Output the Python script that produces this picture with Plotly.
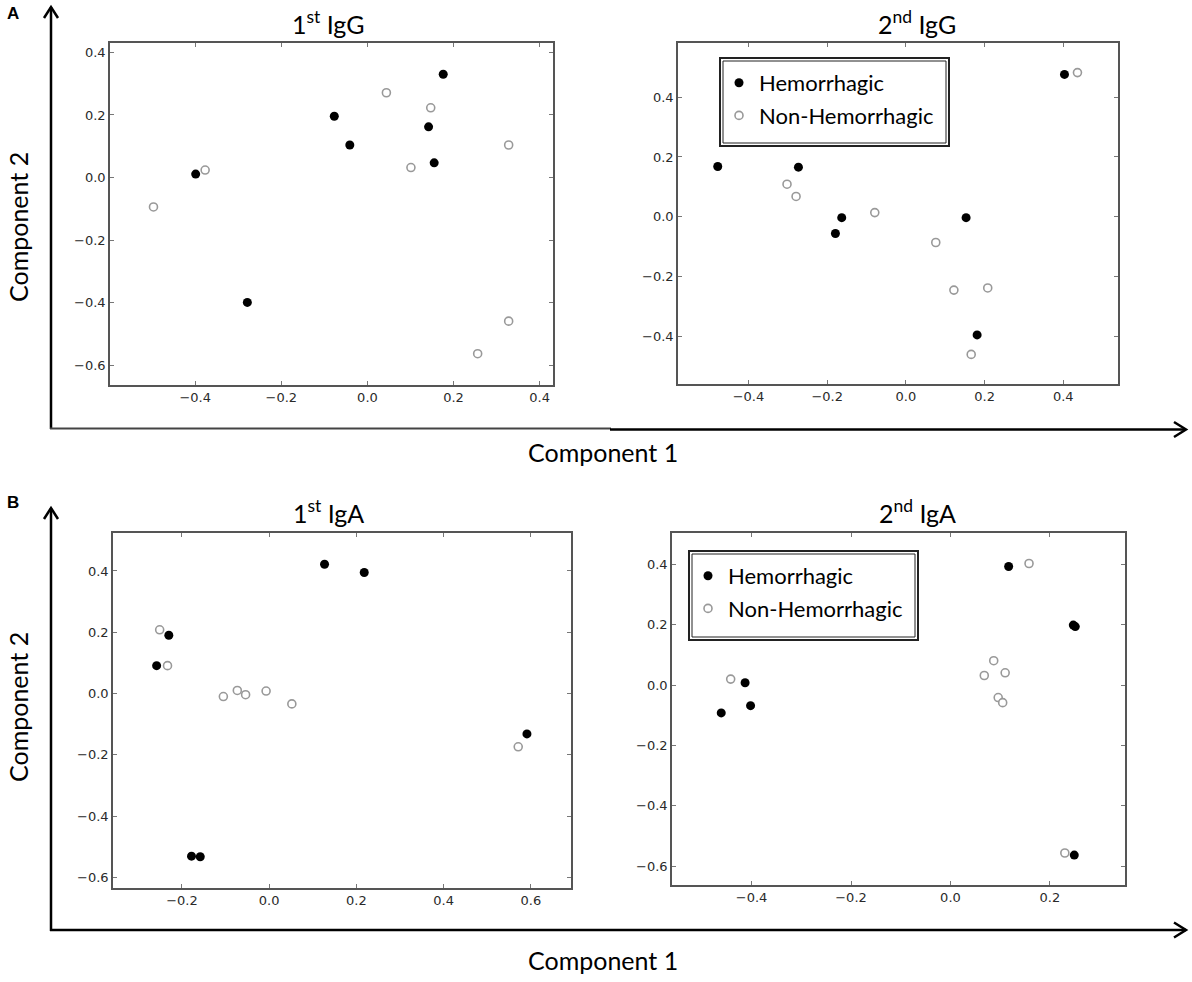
import plotly.graph_objects as go

# ===============================
# DATA
# ===============================
# 1st IgG
igg1_hem_x = [0.176, -0.077, -0.041, 0.142, 0.155, -0.399, -0.279]
igg1_hem_y = [0.330, 0.196, 0.104, 0.162, 0.047, 0.011, -0.399]
igg1_non_x = [0.044, 0.147, 0.101, 0.328, -0.377, -0.497, 0.328, 0.256]
igg1_non_y = [0.271, 0.223, 0.032, 0.104, 0.024, -0.094, -0.459, -0.563]

# 2nd IgG
igg2_hem_x = [0.403, -0.478, -0.273, -0.163, -0.179, 0.153, 0.181]
igg2_hem_y = [0.476, 0.168, 0.166, -0.003, -0.056, -0.003, -0.395]
igg2_non_x = [0.436, -0.302, -0.279, -0.079, 0.076, 0.122, 0.208, 0.166]
igg2_non_y = [0.482, 0.109, 0.068, 0.014, -0.086, -0.245, -0.238, -0.460]

# 1st IgA
iga1_hem_x = [0.127, 0.218, -0.230, -0.258, 0.591, -0.178, -0.158]
iga1_hem_y = [0.422, 0.395, 0.190, 0.091, -0.132, -0.531, -0.533]
iga1_non_x = [-0.251, -0.233, -0.105, -0.073, -0.054, -0.007, 0.052, 0.571]
iga1_non_y = [0.208, 0.091, -0.010, 0.010, -0.004, 0.008, -0.034, -0.174]

# 2nd IgA
iga2_hem_x = [0.117, 0.247, 0.251, -0.413, -0.402, -0.461, 0.249]
iga2_hem_y = [0.393, 0.199, 0.194, 0.008, -0.068, -0.092, -0.563]
iga2_non_x = [0.158, 0.087, 0.068, 0.110, 0.096, 0.105, -0.442, 0.230]
iga2_non_y = [0.403, 0.081, 0.032, 0.041, -0.041, -0.058, 0.020, -0.556]

GROUP_NAMES = ["Hemorrhagic", "Non-Hemorrhagic"]
PANEL_TITLES = ["1<sup>st</sup> IgG", "2<sup>nd</sup> IgG", "1<sup>st</sup> IgA", "2<sup>nd</sup> IgA"]
AXIS_LABEL_X = "Component 1"
AXIS_LABEL_Y = "Component 2"

# ===============================
# PAGE GEOMETRY (window pixels)
# ===============================
W, H = 1192, 982
FONT = "Lato, 'Open Sans', sans-serif"
TICK_FONT = "'DejaVu Sans', sans-serif"


def px_x(px):
    return px / W


def px_y(py):
    return 1 - py / H


# box in pixels: left, right, top, bottom ; axis ranges
panels = [
    dict(box=(110, 553, 43, 385), xr=[-0.598, 0.431], yr=[-0.663, 0.430],
         data=(igg1_hem_x, igg1_hem_y, igg1_non_x, igg1_non_y), legend=None),
    dict(box=(678, 1118, 43, 384), xr=[-0.579, 0.539], yr=[-0.559, 0.581],
         data=(igg2_hem_x, igg2_hem_y, igg2_non_x, igg2_non_y), legend="legend"),
    dict(box=(113, 571, 533, 888), xr=[-0.358, 0.692], yr=[-0.635, 0.524],
         data=(iga1_hem_x, iga1_hem_y, iga1_non_x, iga1_non_y), legend=None),
    dict(box=(672, 1125, 533, 885), xr=[-0.560, 0.351], yr=[-0.662, 0.504],
         data=(iga2_hem_x, iga2_hem_y, iga2_non_x, iga2_non_y), legend="legend2"),
]

fig = go.Figure()
layout_axes = {}

for i, p in enumerate(panels):
    n = "" if i == 0 else str(i + 1)
    l, r, t, b = p["box"]
    hx, hy, nx, ny = p["data"]
    show = p["legend"] is not None
    leg = p["legend"] if show else "legend"

    # open circles first so filled ones sit on top
    fig.add_trace(go.Scatter(
        x=nx, y=ny, mode="markers", name=GROUP_NAMES[1],
        xaxis="x" + n, yaxis="y" + n,
        marker=dict(size=8, color="white", line=dict(color="#999999", width=1.6)),
        showlegend=show, legend=leg, legendrank=2, legendgroup="non" + n,
    ))
    fig.add_trace(go.Scatter(
        x=hx, y=hy, mode="markers", name=GROUP_NAMES[0],
        xaxis="x" + n, yaxis="y" + n,
        marker=dict(size=9, color="black", line=dict(width=0)),
        showlegend=show, legend=leg, legendrank=1, legendgroup="hem" + n,
    ))

    common = dict(
        showgrid=False, zeroline=False, showline=True, mirror="ticks",
        linecolor="#555555", linewidth=1.5, ticks="inside", ticklen=4,
        tickcolor="#777777", tickwidth=1, dtick=0.2, tickformat=".1f",
        tickfont=dict(family=TICK_FONT, size=13, color="#2a2a2a"),
    )
    layout_axes["xaxis" + n] = dict(common, domain=[px_x(l), px_x(r)], range=p["xr"],
                                    anchor="y" + n, tick0=0)
    layout_axes["yaxis" + n] = dict(common, domain=[px_y(b), px_y(t)], range=p["yr"],
                                    anchor="x" + n, tick0=0)

fig.update_layout(**layout_axes)

# ===============================
# TITLES AND LABELS
# ===============================
annotations = []
title_pos = [(328, 23), (917, 23), (328, 511), (917, 511)]
for txt, (tx, ty) in zip(PANEL_TITLES, title_pos):
    annotations.append(dict(text=txt, x=px_x(tx), y=px_y(ty), xref="paper", yref="paper",
                            showarrow=False, xanchor="center", yanchor="middle",
                            font=dict(family=FONT, size=25, color="black")))

for lab, ly in [("A", 13), ("B", 502)]:
    annotations.append(dict(text="<b>" + lab + "</b>", x=px_x(13), y=px_y(ly), xref="paper",
                            yref="paper", showarrow=False, xanchor="center", yanchor="middle",
                            font=dict(family="'Liberation Sans', Arial, sans-serif", size=17,
                                      color="black")))

for cy in [452, 960]:
    annotations.append(dict(text=AXIS_LABEL_X, x=px_x(603), y=px_y(cy), xref="paper",
                            yref="paper", showarrow=False, xanchor="center", yanchor="middle",
                            font=dict(family=FONT, size=25, color="black")))
for cy in [227, 707]:
    annotations.append(dict(text=AXIS_LABEL_Y, x=px_x(18), y=px_y(cy), xref="paper",
                            yref="paper", showarrow=False, xanchor="center", yanchor="middle",
                            textangle=-90, font=dict(family=FONT, size=25, color="black")))

# ===============================
# BIG AXIS ARROWS AND LEGEND FRAMES
# ===============================
def seg(x0, y0, x1, y1, color="black", width=2.5):
    return dict(type="line", xref="paper", yref="paper",
                x0=px_x(x0), y0=px_y(y0), x1=px_x(x1), y1=px_y(y1),
                line=dict(color=color, width=width))


def chevron(pts, width=2.5):
    path = "M " + " L ".join(f"{px_x(a):.5f},{px_y(b):.5f}" for a, b in pts)
    return dict(type="path", xref="paper", yref="paper", path=path,
                line=dict(color="black", width=width))


shapes = [
    # panel A
    seg(51, 429, 51, 7),
    seg(50, 428.5, 611, 428.5, color="#444444", width=2),
    seg(610, 429.5, 1186, 429.5),
    chevron([(44, 18), (51, 7), (58, 18)]),
    chevron([(1174, 422), (1186, 429.5), (1174, 437)]),
    # panel B
    seg(51, 931, 51, 508),
    seg(50, 930, 1186, 930),
    chevron([(44, 519), (51, 508), (58, 519)]),
    chevron([(1174, 922.5), (1186, 930), (1174, 937.5)]),
]

for (l, r, t, b) in [(720, 949, 58, 146), (689, 918, 551, 640)]:
    shapes.append(dict(type="rect", xref="paper", yref="paper",
                       x0=px_x(l), x1=px_x(r), y0=px_y(b), y1=px_y(t),
                       line=dict(color="#222222", width=2), fillcolor="white", layer="below"))
    shapes.append(dict(type="rect", xref="paper", yref="paper",
                       x0=px_x(l + 3), x1=px_x(r - 3), y0=px_y(b - 3), y1=px_y(t + 3),
                       line=dict(color="#222222", width=1)))

legend_style = dict(xanchor="left", yanchor="top", bgcolor="rgba(0,0,0,0)", borderwidth=0,
                    font=dict(family=FONT, size=22, color="black"),
                    traceorder="grouped", tracegroupgap=1)

fig.update_layout(
    width=W, height=H, autosize=False,
    margin=dict(l=0, r=0, t=0, b=0),
    paper_bgcolor="white", plot_bgcolor="white",
    annotations=annotations, shapes=shapes,
    legend=dict(legend_style, x=px_x(719), y=px_y(62)),
    legend2=dict(legend_style, x=px_x(688), y=px_y(555)),
)

# drop the default 8px page margin so the figure sits at the window corner
fig.write_html("out.html", config={"displayModeBar": False},
               post_script="document.body.style.margin = '0';")
